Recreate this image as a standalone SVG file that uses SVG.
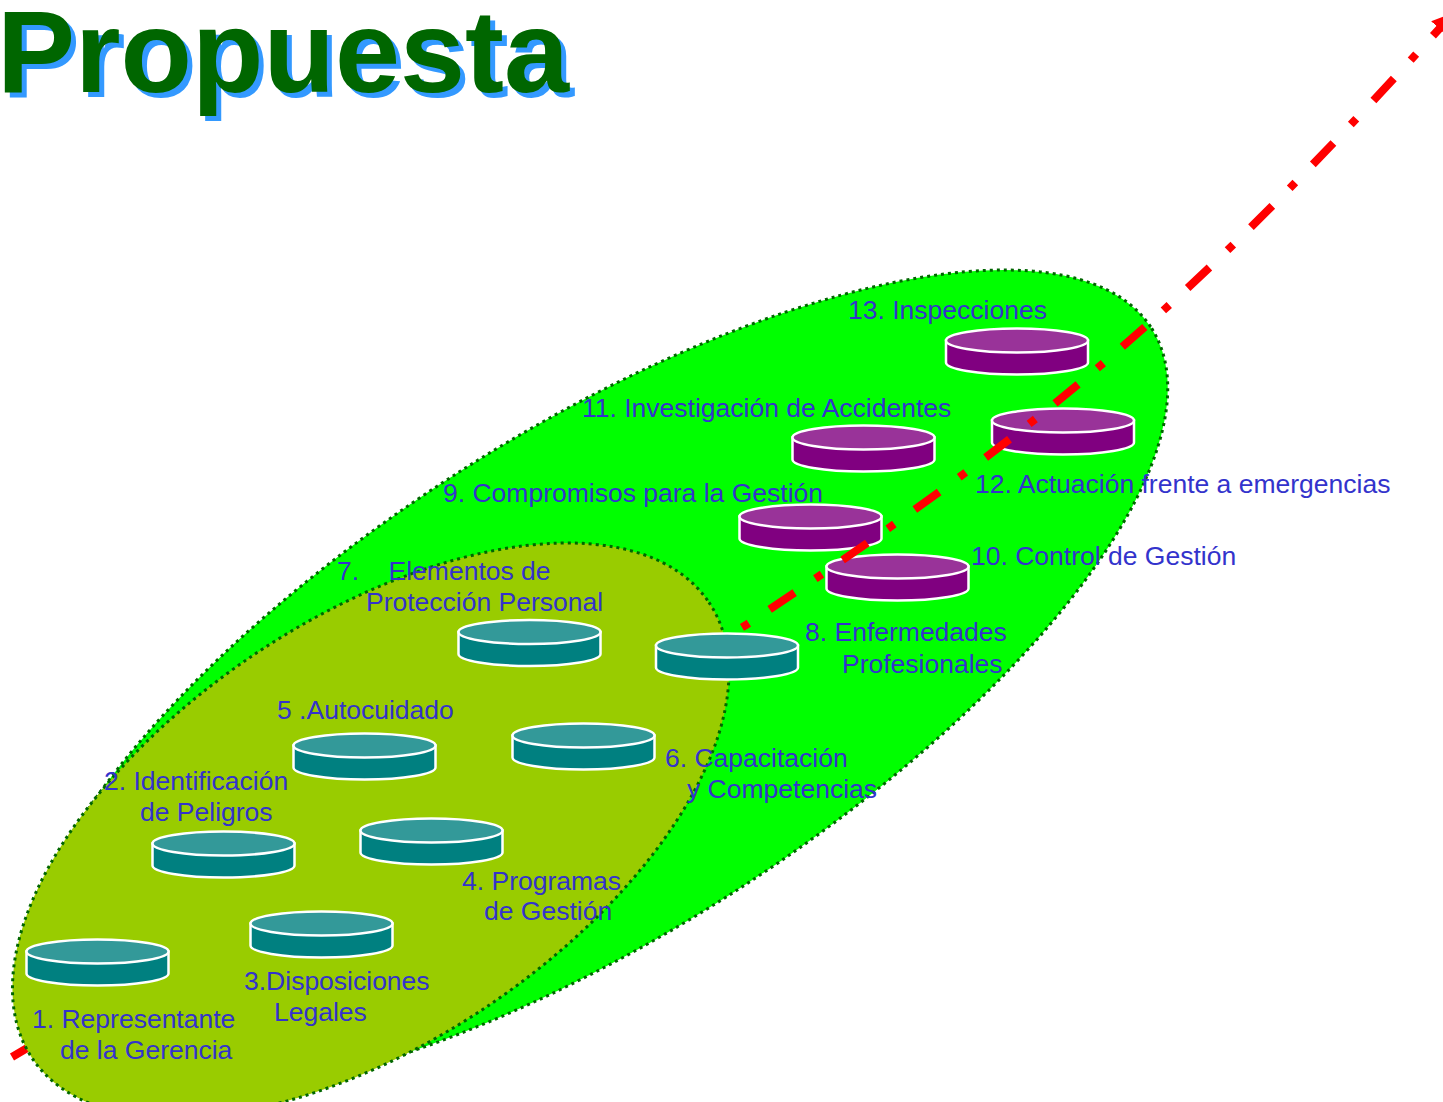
<svg xmlns="http://www.w3.org/2000/svg" xmlns:xlink="http://www.w3.org/1999/xlink" width="1443" height="1102" viewBox="0 0 1443 1102">
<style>
.lbl{font-family:"Liberation Sans",Arial,sans-serif;font-size:26.5px;fill:#3333CC}
.edge{stroke:#006600;stroke-width:3;stroke-dasharray:3 4}
.w{stroke:#FFFFFF;stroke-width:2.5}
</style>
<defs>
<g id="cylT">
<path class="w" d="M-71,0 V22 A71,12 0 0 0 71,22 V0 Z" fill="#008080"/>
<ellipse class="w" cx="0" cy="0" rx="71" ry="12" fill="#339999"/>
</g>
<g id="cylP">
<path class="w" d="M-71,0 V22 A71,12 0 0 0 71,22 V0 Z" fill="#800080"/>
<ellipse class="w" cx="0" cy="0" rx="71" ry="12" fill="#993399"/>
</g>
<marker id="ah" markerUnits="userSpaceOnUse" markerWidth="26" markerHeight="26" viewBox="0 -13 26 26" refX="1" refY="0" orient="auto">
<path d="M0,-11 L22,0 L0,11 Z" fill="#FF0000"/>
</marker>
</defs>
<rect width="1443" height="1102" fill="#FFFFFF"/>
<g id="outer-ellipse">
<ellipse class="edge" cx="595" cy="683" rx="660" ry="251" fill="#00FF00" transform="rotate(-32.5 595 683)"/>
</g>
<g id="n13"><use xlink:href="#cylP" x="1017" y="340.5"/><text class="lbl" x="848" y="319">13. Inspecciones</text></g>
<g id="n12"><use xlink:href="#cylP" x="1063" y="420.5"/><text class="lbl" x="975" y="493">12. Actuación frente a emergencias</text></g>
<g id="n11"><use xlink:href="#cylP" x="863.5" y="437.5"/><text class="lbl" x="582" y="417">11. Investigación de Accidentes</text></g>
<g id="n9"><use xlink:href="#cylP" x="810.5" y="516.5"/><text class="lbl" x="443" y="502">9. Compromisos para la Gestión</text></g>
<g id="n10"><use xlink:href="#cylP" x="897.5" y="566.5"/><text class="lbl" x="971" y="565">10. Control de Gestión</text></g>
<g id="connectors">
<path d="M12,1057 L746,625 C1055,421 1191,302 1440,28" fill="none" stroke="#FF0000" stroke-width="8" stroke-dasharray="30 25 8 25" marker-end="url(#ah)"/>
</g>
<g id="inner-ellipse">
<ellipse class="edge" cx="370.7" cy="830.5" rx="408" ry="211" fill="#99CC00" transform="rotate(-34 370.7 830.5)"/>
</g>
<g id="n7"><use xlink:href="#cylT" x="529.5" y="632"/><text class="lbl" x="337" y="580" xml:space="preserve">7.    Elementos de</text><text class="lbl" x="366" y="611">Protección Personal</text></g>
<g id="n8"><use xlink:href="#cylT" x="727" y="645.5"/><text class="lbl" x="805" y="641">8. Enfermedades</text><text class="lbl" x="842" y="673">Profesionales</text></g>
<g id="n6"><use xlink:href="#cylT" x="583.5" y="735.5"/><text class="lbl" x="665" y="767">6. Capacitación</text><text class="lbl" x="687" y="798">y Competencias</text></g>
<g id="n5"><use xlink:href="#cylT" x="364.5" y="745.5"/><text class="lbl" x="277" y="719">5 .Autocuidado</text></g>
<g id="n4"><use xlink:href="#cylT" x="431.5" y="830.5"/><text class="lbl" x="462" y="890">4. Programas</text><text class="lbl" x="484" y="920">de Gestión</text></g>
<g id="n2"><use xlink:href="#cylT" x="223.5" y="843.5"/><text class="lbl" x="104" y="790">2. Identificación</text><text class="lbl" x="140" y="821">de Peligros</text></g>
<g id="n3"><use xlink:href="#cylT" x="321.5" y="923.5"/><text class="lbl" x="244" y="990">3.Disposiciones</text><text class="lbl" x="274" y="1021">Legales</text></g>
<g id="n1"><use xlink:href="#cylT" x="97.5" y="951.5"/><text class="lbl" x="32" y="1028">1. Representante</text><text class="lbl" x="60" y="1059">de la Gerencia</text></g>
<g id="title">
<text x="2" y="97" font-family="'Liberation Sans',Arial,sans-serif" font-weight="bold" font-size="117" fill="#3399FF">Propuesta</text>
<text x="-3" y="92" font-family="'Liberation Sans',Arial,sans-serif" font-weight="bold" font-size="117" fill="#006600">Propuesta</text>
</g>
</svg>
